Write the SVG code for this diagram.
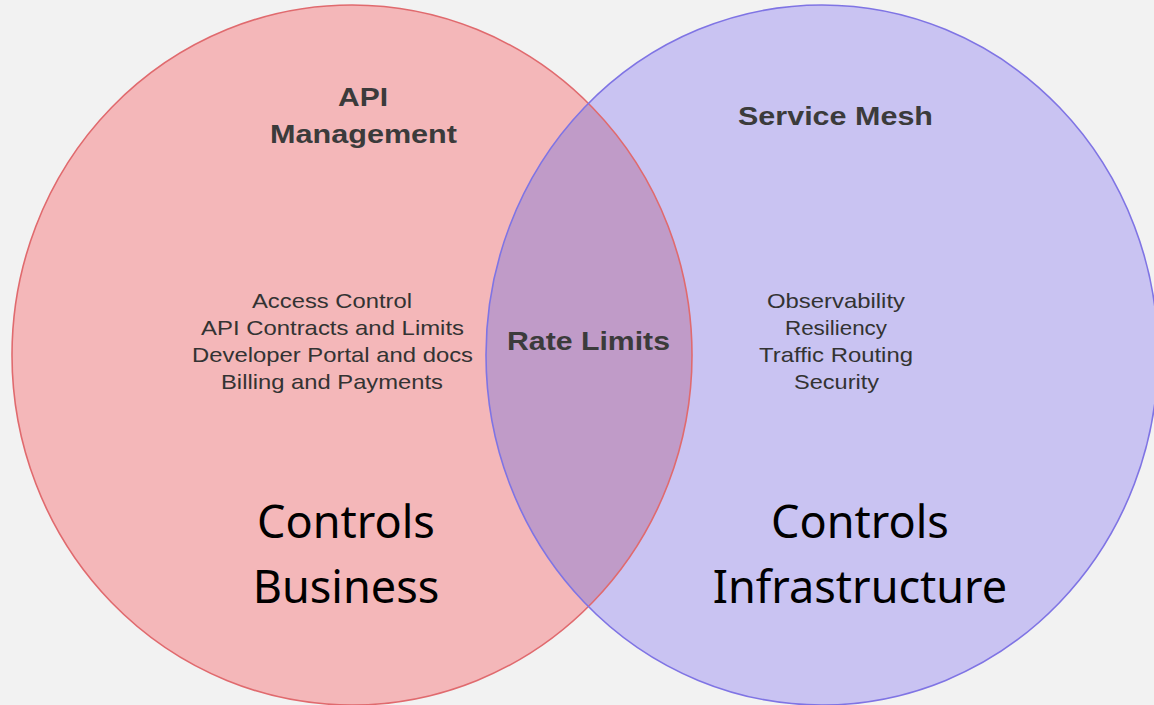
<svg xmlns="http://www.w3.org/2000/svg" width="1154" height="705" viewBox="0 0 1154 705">
<style>
.title{font-family:"Liberation Sans",Arial,sans-serif;font-weight:bold;font-size:26px;fill:#3b3b3b;text-anchor:middle}
.item{font-family:"Liberation Sans",Arial,sans-serif;font-size:21px;fill:#333333;text-anchor:middle}
.big{font-family:"Noto Sans","Open Sans",sans-serif;font-size:45px;fill:#000000;text-anchor:middle}
</style>
<defs>
<clipPath id="clipLeft"><ellipse cx="352" cy="355" rx="340" ry="350"/></clipPath>
</defs>
<rect width="1154" height="705" fill="#f2f2f2"/>
<g id="api-management">
<ellipse cx="352" cy="355" rx="340" ry="350" fill="#f4b7b9"/>
</g>
<g id="service-mesh">
<ellipse cx="822" cy="355" rx="336" ry="350" fill="#c9c3f2"/>
</g>
<g id="overlap">
<ellipse cx="822" cy="355" rx="336" ry="350" fill="#c09bc8" clip-path="url(#clipLeft)"/>
</g>
<g id="outlines" fill="none" stroke-width="1.6">
<ellipse cx="352" cy="355" rx="340" ry="350" stroke="#e06a6e"/>
<ellipse cx="822" cy="355" rx="336" ry="350" stroke="#7f74e4"/>
</g>
<g id="labels">
<text class="title" x="363" y="106" textLength="50" lengthAdjust="spacingAndGlyphs">API</text>
<text class="title" x="363.5" y="143" textLength="187" lengthAdjust="spacingAndGlyphs">Management</text>
<text class="title" x="835.5" y="125" textLength="195" lengthAdjust="spacingAndGlyphs">Service Mesh</text>
<text class="item" x="332" y="308" textLength="160" lengthAdjust="spacingAndGlyphs">Access Control</text>
<text class="item" x="332.5" y="335" textLength="263" lengthAdjust="spacingAndGlyphs">API Contracts and Limits</text>
<text class="item" x="332.5" y="362" textLength="281" lengthAdjust="spacingAndGlyphs">Developer Portal and docs</text>
<text class="item" x="332" y="389" textLength="222" lengthAdjust="spacingAndGlyphs">Billing and Payments</text>
<text class="title" x="588.5" y="350" textLength="163" lengthAdjust="spacingAndGlyphs">Rate Limits</text>
<text class="item" x="836" y="308" textLength="138" lengthAdjust="spacingAndGlyphs">Observability</text>
<text class="item" x="836" y="335" textLength="102" lengthAdjust="spacingAndGlyphs">Resiliency</text>
<text class="item" x="836" y="362" textLength="154" lengthAdjust="spacingAndGlyphs">Traffic Routing</text>
<text class="item" x="836.5" y="389" textLength="85" lengthAdjust="spacingAndGlyphs">Security</text>
<text class="big" x="346" y="538">Controls</text>
<text class="big" x="346" y="603">Business</text>
<text class="big" x="860" y="538">Controls</text>
<text class="big" x="860" y="603">Infrastructure</text>
</g>
</svg>
